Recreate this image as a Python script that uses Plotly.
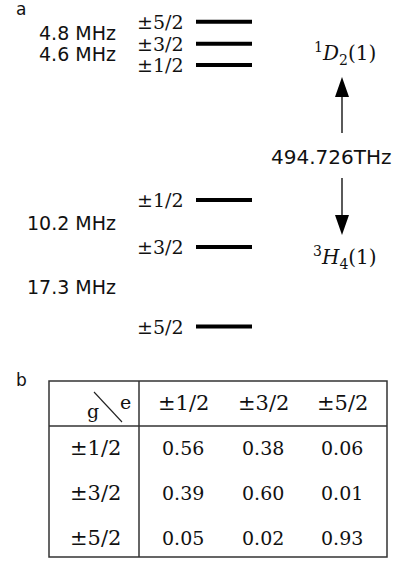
import numpy as np
import plotly.graph_objects as go

W, H = 399, 561

# Hyperfine sublevels and splittings (MHz)
excited_states = ["±1/2", "±3/2", "±5/2"]
excited_splits = [4.6, 4.8]
ground_states = ["±1/2", "±3/2", "±5/2"]
ground_splits = [10.2, 17.3]

excited_term = "<sup>1</sup><i>D</i><sub>2</sub>(1)"
ground_term = "<sup>3</sup><i>H</i><sub>4</sub>(1)"
transition_label = "494.726THz"

# Relative transition strengths, rows = ground (g), columns = excited (e)
g_labels = ["±1/2", "±3/2", "±5/2"]
e_labels = ["±1/2", "±3/2", "±5/2"]
branching = [
    [0.56, 0.38, 0.06],
    [0.39, 0.60, 0.01],
    [0.05, 0.02, 0.93],
]

# ---- layout constants ----
PX_PER_MHZ = 4.6          # vertical scale of the level diagram
GROUND_TOP_PX = 200       # pixel row of the ground ±1/2 level
OPTICAL_GAP = 29.35       # schematic (not to scale) gap between the two manifolds
SERIF = "DejaVu Serif"
SANS = "DejaVu Sans"
INK = "#111111"

ground_E = np.concatenate([[0.0], -np.cumsum(ground_splits)])
excited_E = OPTICAL_GAP + np.concatenate([[0.0], np.cumsum(excited_splits)])

y_top = GROUND_TOP_PX / PX_PER_MHZ
y_bot = (GROUND_TOP_PX - H) / PX_PER_MHZ


def py(p):
    """pixel row -> paper fraction"""
    return 1 - p / H


def label(x, y, text, family, size, xanchor="center", yref="paper"):
    return dict(x=x, y=y, xref="x", yref=yref, text=text, showarrow=False,
                xanchor=xanchor, yanchor="middle",
                font=dict(family=family, size=size, color=INK))


fig = go.Figure()

# energy levels
LX0, LX1 = 196, 252
xs, ys = [], []
for e in list(excited_E) + list(ground_E):
    xs += [LX0, LX1, None]
    ys += [e, e, None]
fig.add_trace(go.Scatter(x=xs, y=ys, mode="lines",
                         line=dict(color="black", width=4),
                         hoverinfo="skip", showlegend=False))

ann = []
shapes = []

# sublevel labels
for states, E in ((excited_states, excited_E), (ground_states, ground_E)):
    for s, e in zip(states, E):
        ann.append(label(186, e, s, SERIF, 19, xanchor="right", yref="y"))

# splitting labels, placed between adjacent sublevels
for splits, E in ((excited_splits, excited_E), (ground_splits, ground_E)):
    for i, s in enumerate(splits):
        ann.append(label(118, (E[i] + E[i + 1]) / 2, f"{s:g} MHz", SANS, 19,
                         xanchor="right", yref="y"))

# term symbols and transition
ann.append(label(345, py(53), excited_term, SERIF, 20))
ann.append(label(345, py(257), ground_term, SERIF, 20))
ann.append(label(331, py(157), transition_label, SANS, 20))

# arrows (shaft + filled head)
AX = 342
shapes.append(dict(type="line", xref="x", yref="paper", x0=AX, x1=AX,
                   y0=py(133), y1=py(96), line=dict(color="black", width=1.3)))
shapes.append(dict(type="path", xref="x", yref="paper",
                   path=f"M {AX-7},{py(97)} L {AX+7},{py(97)} L {AX},{py(77)} Z",
                   fillcolor="black", line=dict(width=0)))
shapes.append(dict(type="line", xref="x", yref="paper", x0=AX, x1=AX,
                   y0=py(178), y1=py(216), line=dict(color="black", width=1.3)))
shapes.append(dict(type="path", xref="x", yref="paper",
                   path=f"M {AX-7},{py(215)} L {AX+7},{py(215)} L {AX},{py(235)} Z",
                   fillcolor="black", line=dict(width=0)))

# panel letters
ann.append(label(21, py(9), "a", SANS, 17))
ann.append(label(21, py(380), "b", SANS, 17))

# ---- table ----
TL, TR, TT, TB = 49, 387, 381, 557
HDR_Y, VSEP_X = 426, 139
border = dict(color="#333333", width=1.5)
shapes.append(dict(type="rect", xref="x", yref="paper", x0=TL, x1=TR,
                   y0=py(TB), y1=py(TT), line=border))
shapes.append(dict(type="line", xref="x", yref="paper", x0=TL, x1=TR,
                   y0=py(HDR_Y), y1=py(HDR_Y), line=border))
shapes.append(dict(type="line", xref="x", yref="paper", x0=VSEP_X, x1=VSEP_X,
                   y0=py(TB), y1=py(TT), line=border))
# diagonal in the corner cell
shapes.append(dict(type="line", xref="x", yref="paper", x0=94, x1=122,
                   y0=py(392), y1=py(422), line=dict(color="#222222", width=1.1)))
ann.append(label(93, py(411), "g", SERIF, 19))
ann.append(label(125, py(402), "e", SERIF, 19))

col_x = [183, 263, 342]
row_y = [448, 493, 538]
for cx, lab in zip(col_x, e_labels):
    ann.append(label(cx, py(403), lab, SERIF, 21))
for ry, lab, vals in zip(row_y, g_labels, branching):
    ann.append(label(95, py(ry), lab, SERIF, 21))
    for cx, v in zip(col_x, vals):
        ann.append(label(cx, py(ry), f"{v:.2f}", SERIF, 19))

fig.update_layout(
    width=W, height=H,
    margin=dict(l=0, r=0, t=0, b=0),
    paper_bgcolor="white", plot_bgcolor="white",
    xaxis=dict(range=[0, W], visible=False, fixedrange=True),
    yaxis=dict(range=[y_bot, y_top], visible=False, fixedrange=True),
    annotations=ann, shapes=shapes,
    showlegend=False,
)

fig.write_html("out.html", config={"displayModeBar": False})
